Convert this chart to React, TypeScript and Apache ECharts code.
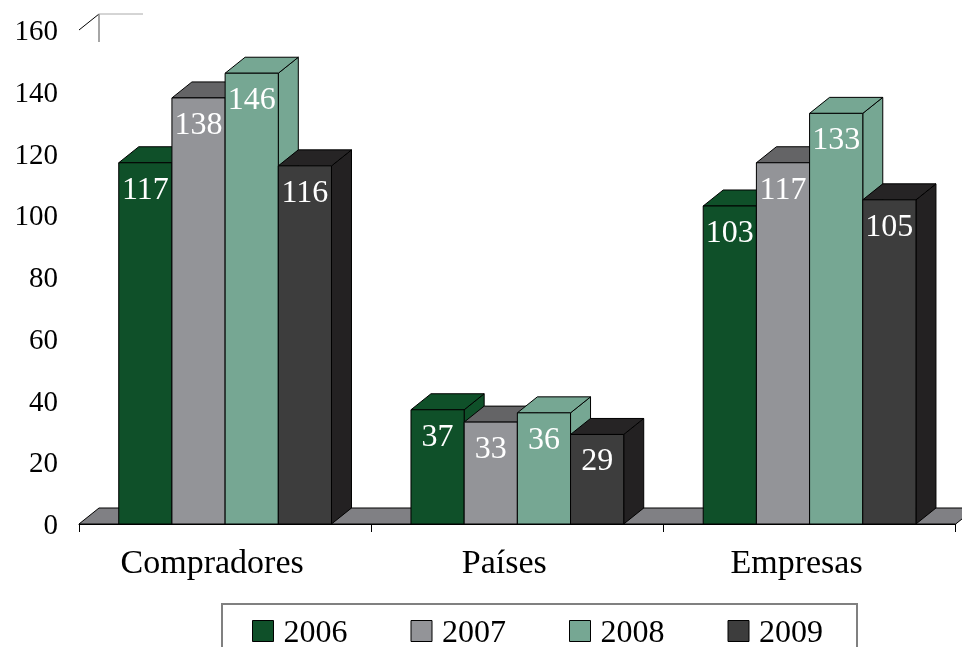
import React, { useEffect, useRef } from "react";
import * as echarts from "echarts";

const categories = ["Compradores", "Países", "Empresas"];
const years = ["2006", "2007", "2008", "2009"];
const s2006 = [117, 37, 103];
const s2007 = [138, 33, 117];
const s2008 = [146, 36, 133];
const s2009 = [116, 29, 105];
const seriesValues = [s2006, s2007, s2008, s2009];

const frontColors = ["#0f5029", "#939498", "#76a793", "#3d3d3d"];
const topColors = ["#0f5029", "#646466", "#76a793", "#262425"];
const sideColors = ["#0f5029", "#939498", "#76a793", "#232122"];

const FONT = '"Liberation Serif", "Times New Roman", serif';
const DX = 20;
const DY = -16;
const BAR_RATIO = 0.182;

export default function App() {
  const ref = useRef<HTMLDivElement>(null);
  useEffect(() => {
    if (!ref.current) return;
    const chart = echarts.init(ref.current, null, { renderer: "svg" });

    const barSeries = years.map((yr, si) => ({
      name: yr,
      type: "custom",
      coordinateSystem: "cartesian2d",
      itemStyle: { color: frontColors[si], borderColor: "#000", borderWidth: 1 },
      encode: { x: 0, y: 1 },
      data: seriesValues[si].map((v, ci) => [ci, v]),
      z: 3,
      renderItem: (params: any, api: any) => {
        const ci = api.value(0);
        const v = api.value(1);
        const base = api.coord([ci, 0]);
        const top = api.coord([ci, v]);
        const band = api.size([1, 0])[0];
        const bw = band * BAR_RATIO;
        const x = base[0] - 2 * bw + si * bw;
        const yT = top[1];
        const yB = base[1];
        const stroke = { stroke: "#000", lineWidth: 1 };
        return {
          type: "group",
          children: [
            {
              type: "polygon",
              shape: {
                points: [
                  [x + bw, yT],
                  [x + bw + DX, yT + DY],
                  [x + bw + DX, yB + DY],
                  [x + bw, yB],
                ],
              },
              style: { fill: sideColors[si], ...stroke },
            },
            {
              type: "polygon",
              shape: {
                points: [
                  [x, yT],
                  [x + DX, yT + DY],
                  [x + bw + DX, yT + DY],
                  [x + bw, yT],
                ],
              },
              style: { fill: topColors[si], ...stroke },
            },
            {
              type: "rect",
              shape: { x: x, y: yT, width: bw, height: yB - yT },
              style: { fill: frontColors[si], ...stroke },
            },
            {
              type: "text",
              x: x + bw / 2,
              y: yT + 25,
              style: {
                text: String(v),
                fill: "#fff",
                font: `32px ${FONT}`,
                align: "center",
                verticalAlign: "middle",
              },
            },
          ],
        };
      },
    }));

    const decor = {
      name: "decor",
      type: "custom",
      coordinateSystem: "cartesian2d",
      data: [[0, 0]],
      encode: { x: 0, y: 1 },
      z: 1,
      silent: true,
      renderItem: (params: any) => {
        const cs = params.coordSys;
        const x0 = cs.x;
        const w = cs.width;
        const yb = cs.y + cs.height;
        const yt = cs.y;
        return {
          type: "group",
          children: [
            {
              type: "polygon",
              shape: {
                points: [
                  [x0, yb],
                  [x0 + DX, yb + DY],
                  [x0 + w + DX, yb + DY],
                  [x0 + w, yb],
                ],
              },
              style: { fill: "#808084", stroke: "#000", lineWidth: 1 },
            },
            {
              type: "line",
              shape: { x1: x0, y1: yt, x2: x0 + DX, y2: yt + DY },
              style: { stroke: "#000", lineWidth: 1 },
            },
            {
              type: "line",
              shape: { x1: x0 + DX, y1: yt + DY, x2: x0 + DX, y2: yt + DY + 28 },
              style: { stroke: "#888", lineWidth: 1.5 },
            },
            {
              type: "line",
              shape: { x1: x0 + DX, y1: yt + DY, x2: x0 + DX + 44, y2: yt + DY },
              style: { stroke: "#aaa", lineWidth: 1 },
            },
          ],
        };
      },
    };

    chart.setOption({
      animation: false,
      grid: { left: 79, right: 6.3, top: 30, bottom: 123 },
      xAxis: {
        type: "category",
        data: categories,
        boundaryGap: true,
        axisLine: { show: true, lineStyle: { color: "#000", width: 1 } },
        axisTick: { show: true, length: 8, lineStyle: { color: "#000" } },
        axisLabel: {
          fontFamily: FONT,
          fontSize: 34,
          color: "#000",
          margin: 20,
          padding: [0, 26, 0, 0],
        },
        z: 5,
      },
      yAxis: {
        type: "value",
        min: 0,
        max: 160,
        interval: 20,
        axisLine: { show: false },
        axisTick: { show: false },
        splitLine: { show: false },
        axisLabel: { fontFamily: FONT, fontSize: 29, color: "#000", margin: 21 },
      },
      legend: {
        data: years,
        left: 222,
        top: 604,
        orient: "horizontal",
        padding: [11, 34, 11, 30],
        itemGap: 63,
        itemWidth: 21,
        itemHeight: 21,
        icon: "rect",
        backgroundColor: "#fff",
        borderColor: "#808080",
        borderWidth: 2,
        itemStyle: { borderColor: "#000", borderWidth: 1 },
        textStyle: {
          fontFamily: FONT,
          fontSize: 32,
          lineHeight: 28,
          color: "#000",
          padding: [0, 0, 0, 5],
        },
      },
      series: [decor, ...barSeries],
    });
    return () => chart.dispose();
  }, []);
  return (
    <div
      ref={ref}
      style={{ position: "fixed", left: 0, top: 0, width: 962, height: 647 }}
    />
  );
}
